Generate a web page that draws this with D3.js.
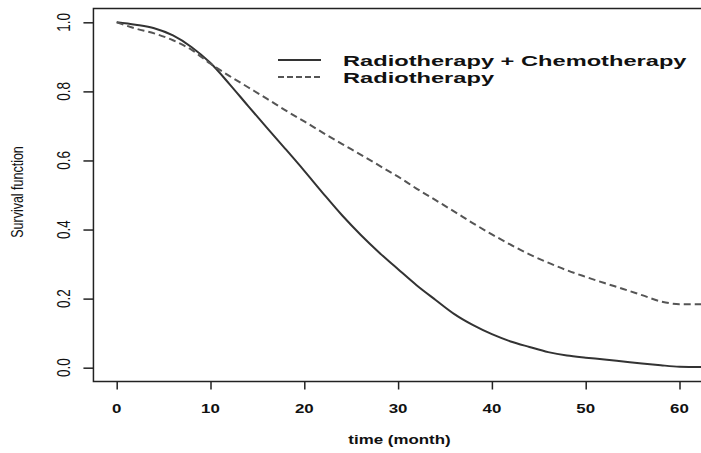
<!DOCTYPE html>
<html><head><meta charset="utf-8">
<script src="https://cdn.jsdelivr.net/npm/d3@7"></script>
<style>body{margin:0;background:#fff;} svg{display:block;}</style>
</head><body>
<script>
const months = [0,2,4,6,8,10,12,14,16,18,20,22,24,26,28,30,32,34,36,38,40,42,44,46,48,50,52,54,56,58,60,62,64];
const radioChemo = [1.0,0.993,0.983,0.962,0.928,0.882,0.822,0.758,0.695,0.633,0.57,0.505,0.442,0.385,0.333,0.285,0.238,0.196,0.155,0.123,0.097,0.076,0.06,0.045,0.035,0.029,0.024,0.018,0.012,0.007,0.003,0.002,0.002];
const radio = [1.0,0.982,0.968,0.948,0.92,0.88,0.845,0.812,0.779,0.745,0.713,0.68,0.648,0.617,0.585,0.553,0.518,0.485,0.452,0.418,0.386,0.356,0.328,0.304,0.282,0.263,0.245,0.228,0.21,0.192,0.184,0.184,0.184];
const seriesNames = ["Radiotherapy + Chemotherapy","Radiotherapy"];
const xTicks = [0,10,20,30,40,50,60];
const yTicks = [0,0.2,0.4,0.6,0.8,1.0];
const xTitle = "time (month)";
const yTitle = "Survival function";

const W = 701, H = 453;
const svg = d3.select("body").append("svg").attr("width", W).attr("height", H);
const x = d3.scaleLinear().domain([0,60]).range([116.7,679.5]);
const y = d3.scaleLinear().domain([-0.04,1.04]).range([381.5,8.5]);
const SX = 1.3;
const font = "'Liberation Sans', Arial, Helvetica, sans-serif";

function txt(px, py, s, size, weight, anchor, rot, sx) {
  return svg.append("text")
    .attr("transform", `translate(${px},${py}) scale(${sx || SX},1)` + (rot ? ` rotate(${rot})` : ""))
    .attr("text-anchor", anchor).attr("font-family", font)
    .attr("font-size", size).attr("font-weight", weight).attr("fill", "#111").text(s);
}

// box
svg.append("rect").attr("x", x(-2.48)).attr("y", y(1.04))
  .attr("width", x(64.48) - x(-2.48)).attr("height", y(-0.04) - y(1.04))
  .attr("fill", "none").attr("stroke", "#222").attr("stroke-width", 1.5);

// x axis
const xAxis = d3.axisBottom(x).tickValues(xTicks).tickSize(8).tickFormat("");
svg.append("g").attr("transform", `translate(0,${y(-0.04)})`).call(xAxis)
  .call(g => { g.select(".domain").remove(); g.selectAll("line").attr("stroke","#222").attr("stroke-width",1.5); });
xTicks.forEach(t => txt(x(t), 413, String(t), 13, "bold", "middle"));
txt((x(-2.48)+x(64.48))/2 - 8, 444, xTitle, 13, "bold", "middle");

// y axis
const yAxis = d3.axisLeft(y).tickValues(yTicks).tickSize(10).tickFormat("");
svg.append("g").attr("transform", `translate(${x(-2.48)},0)`).call(yAxis)
  .call(g => { g.select(".domain").remove(); g.selectAll("line").attr("stroke","#222").attr("stroke-width",1.5); });
yTicks.forEach(t => txt(70, y(t), d3.format(".1f")(t), 13.5, "normal", "middle", -90, 1.4));
txt(23, 192, yTitle, 12.5, "normal", "middle", -90, 1.35);

// lines
svg.append("clipPath").attr("id","c").append("rect")
  .attr("x", x(-2.48)).attr("y", y(1.04)).attr("width", x(64.48)-x(-2.48)).attr("height", y(-0.04)-y(1.04));
const line = d3.line().x((d,i) => x(months[i])).y(d => y(d)).curve(d3.curveMonotoneX);
svg.append("path").datum(radioChemo).attr("d", line).attr("fill","none")
  .attr("stroke","#333").attr("stroke-width",2).attr("clip-path","url(#c)");
svg.append("path").datum(radio).attr("d", line).attr("fill","none")
  .attr("stroke","#555").attr("stroke-width",2).attr("stroke-dasharray","7,4").attr("clip-path","url(#c)");

// legend
svg.append("line").attr("x1",278).attr("x2",321).attr("y1",60).attr("y2",60)
  .attr("stroke","#333").attr("stroke-width",2);
svg.append("line").attr("x1",278).attr("x2",321).attr("y1",77).attr("y2",77)
  .attr("stroke","#555").attr("stroke-width",2).attr("stroke-dasharray","6,3");
txt(343, 66, seriesNames[0], 14, "bold", "start", null, 1.69);
txt(343, 83, seriesNames[1], 14, "bold", "start", null, 1.69);
</script>
</body></html>
